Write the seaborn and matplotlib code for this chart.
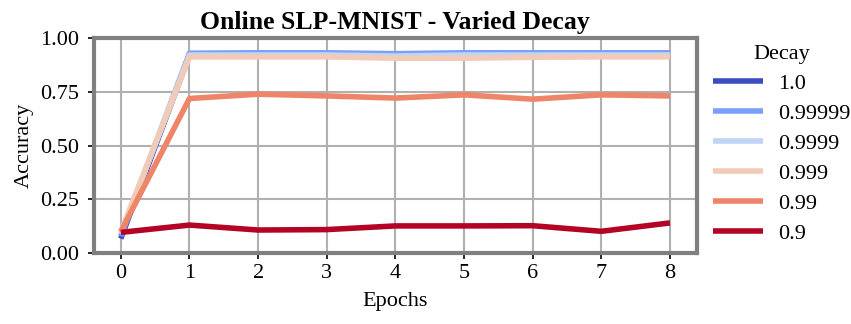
import matplotlib
matplotlib.use("Agg")
import matplotlib.pyplot as plt
from matplotlib import cm
import seaborn as sns
import numpy as np
import pandas as pd

epochs = [0, 1, 2, 3, 4, 5, 6, 7, 8]
decays = ["1.0", "0.99999", "0.9999", "0.999", "0.99", "0.9"]
acc_1_0 = [0.068, 0.92, 0.925, 0.925, 0.92, 0.925, 0.925, 0.925, 0.925]
acc_0_99999 = [0.08, 0.928, 0.93, 0.93, 0.926, 0.93, 0.93, 0.93, 0.93]
acc_0_9999 = [0.09, 0.92, 0.92, 0.92, 0.915, 0.92, 0.92, 0.92, 0.92]
acc_0_999 = [0.10, 0.911, 0.911, 0.911, 0.905, 0.905, 0.909, 0.911, 0.911]
acc_0_99 = [0.10, 0.718, 0.738, 0.73, 0.72, 0.735, 0.715, 0.735, 0.73]
acc_0_9 = [0.097, 0.131, 0.108, 0.11, 0.127, 0.127, 0.128, 0.102, 0.141]
series = [acc_1_0, acc_0_99999, acc_0_9999, acc_0_999, acc_0_99, acc_0_9]

rows = []
for d, vals in zip(decays, series):
    for e, v in zip(epochs, vals):
        rows.append({"Epochs": e, "Accuracy": v, "Decay": d})
df = pd.DataFrame(rows)

sns.set_style("whitegrid")
plt.rcParams["font.family"] = ["Liberation Serif", "DejaVu Serif"]
plt.rcParams["text.color"] = "black"
plt.rcParams["axes.labelcolor"] = "black"
plt.rcParams["xtick.color"] = "black"
plt.rcParams["ytick.color"] = "black"

palette = [tuple(c[:3]) for c in cm.coolwarm(np.linspace(0, 1, len(decays)))]

fig = plt.figure(figsize=(8.51, 3.24), dpi=100)
ax = fig.add_axes([0.1105, 0.2182, 0.7082, 0.6654])
sns.lineplot(data=df, x="Epochs", y="Accuracy", hue="Decay", hue_order=decays,
             palette=palette, linewidth=4, ax=ax, solid_capstyle="butt")

ax.set_xlim(-0.39, 8.39)
ax.set_ylim(0, 1.0)
ax.set_xticks(epochs)
ax.set_yticks([0, 0.25, 0.5, 0.75, 1.0])
ax.set_yticklabels(["0.00", "0.25", "0.50", "0.75", "1.00"])
ax.tick_params(labelsize=16, length=4, width=1.2, colors="black", left=True, bottom=True)
ax.tick_params(axis="y", pad=7)
ax.tick_params(axis="x", pad=4)
ax.grid(True, color="#b0b0b0", linewidth=1.5)
for s in ax.spines.values():
    s.set_color("#808080")
    s.set_linewidth(3)
ax.set_xlabel("Epochs", fontsize=16, labelpad=6, color="black")
ax.set_ylabel("Accuracy", fontsize=16, color="black")
ax.set_title("Online SLP-MNIST - Varied Decay", fontsize=18.5, fontweight="bold", pad=6, color="black")

leg = ax.legend(title="Decay", loc="upper left", bbox_to_anchor=(1.012, 1.006), frameon=False,
                borderaxespad=0, fontsize=16, title_fontsize=16, handlelength=2.25,
                labelspacing=0.42, handletextpad=0.7)
for line in leg.get_lines():
    line.set_linewidth(4)
    line.set_solid_capstyle("butt")
for t in leg.get_texts():
    t.set_color("black")
leg.get_title().set_color("black")

fig.savefig("out.png", dpi=100)
